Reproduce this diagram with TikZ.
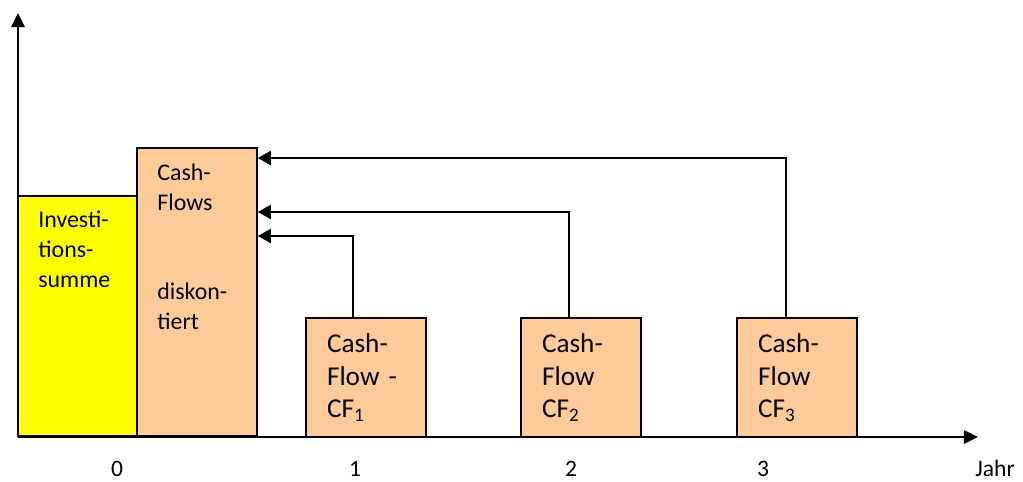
\documentclass[tikz,border=0pt]{standalone}
\usepackage{fontspec}
\setmainfont{Carlito}
\usetikzlibrary{arrows.meta}
\definecolor{invyellow}{HTML}{FFFF00}
\definecolor{peach}{HTML}{FFCC99}
\tikzset{
  bar/.style={draw=black, line width=0.9pt, rectangle, inner sep=0pt, minimum width=2.4cm},
  cfbox/.style={bar, fill=peach, minimum height=2.38cm, text width=1.56cm, align=left,
                font=\fontsize{15.5}{18.7}\selectfont},
  smalltext/.style={anchor=north west, inner sep=0pt, align=left, font=\fontsize{13.6}{17}\selectfont},
  ticklabel/.style={inner sep=0pt, anchor=base, font=\fontsize{13.4}{15}\selectfont},
  axis/.style={line width=1.3pt, -{Triangle[length=8pt,width=7.5pt]}},
  conn/.style={line width=1.2pt, -{Triangle[length=7.5pt,width=8pt]}}
}
\begin{document}
\begin{tikzpicture}[x=0.02cm,y=-0.02cm]
\useasboundingbox (0,0) rectangle (1023,481);
% boxes
\node[bar, fill=invyellow, minimum height=4.8cm] (inv) at (78,316) {};
\node[bar, fill=peach, minimum height=5.76cm] (cfd) at (197,292) {};
\node[cfbox] (cf1) at (366,377.5) {Cash-\\Flow -\\CF\textsubscript{1}};
\node[cfbox] (cf2) at (581,377.5) {Cash-\\Flow\\CF\textsubscript{2}};
\node[cfbox] (cf3) at (797,377.5) {Cash-\\Flow\\CF\textsubscript{3}};
% texts in left boxes
\node[smalltext] (invtext) at (38,211) {Investi-\\tions-\\summe};
\node[smalltext] (cftext1) at (157,164) {Cash-\\Flows};
\node[smalltext] (cftext2) at (157,283) {diskon-\\tiert};
% axes
\coordinate (O) at (18,437);
\coordinate (ytip) at (18,13);
\coordinate (xtip) at (978,437);
\draw[axis] (O) -- (ytip);
\draw[axis] (O) -- (xtip);
% connectors
\draw[conn] (cf1.north -| 353,0) |- (cfd.east |- 0,236);
\draw[conn] (cf2.north -| 569,0) |- (cfd.east |- 0,212);
\draw[conn] (cf3.north -| 786,0) |- (cfd.east |- 0,158);
% tick labels
\node[ticklabel] (l0) at (117,476) {0};
\node[ticklabel] (l1) at (355,476) {1};
\node[ticklabel] (l2) at (571,476) {2};
\node[ticklabel] (l3) at (763,476) {3};
\node[ticklabel, anchor=base west] (jahr) at (975,476) {Jahr};
\end{tikzpicture}
\end{document}
